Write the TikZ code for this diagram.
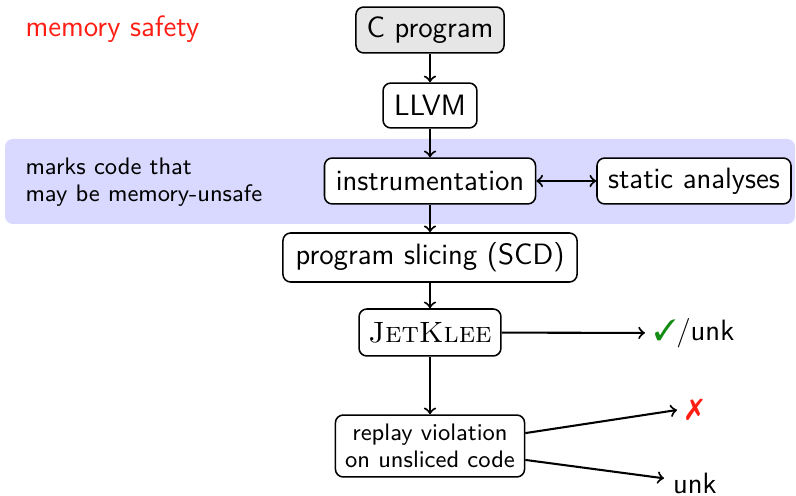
\documentclass[tikz,border=0pt]{standalone}
\usepackage{pifont}
\usetikzlibrary{arrows}
\definecolor{bandblue}{RGB}{217,217,255}
\definecolor{boxgray}{RGB}{230,230,230}
\definecolor{okgreen}{RGB}{20,140,20}
\definecolor{badred}{RGB}{255,30,20}
\tikzset{
  mainfont/.style={font=\sffamily\fontsize{11.4}{13.5}\selectfont},
  smallfont/.style={font=\sffamily\fontsize{9.25}{10.5}\selectfont},
  stage/.style={draw=black, line width=0.6pt, rounded corners=3pt, fill=white,
    inner sep=0pt, mainfont},
  flow/.style={->, line width=0.8pt},
  label/.style={mainfont, inner sep=3.33pt}
}
\begin{document}
\begin{tikzpicture}[x=0.3876pt, y=-0.3876pt]
\useasboundingbox (0,0) rectangle (796,496);
% band
\fill[bandblue, rounded corners=3pt] (5,139) rectangle (795,224);
\node[smallfont, align=left, anchor=west, inner sep=0pt] (note) at (25,182.5)
  {marks code that\\may be memory-unsafe};
\node[mainfont, text=badred, anchor=base west, inner sep=0pt] (title) at (25,37) {memory safety};
% stages
\node[stage, fill=boxgray, minimum width=57.4pt, minimum height=17.8pt] (c) at (430,30) {C program};
\node[stage, minimum width=36.4pt, minimum height=17.4pt] (llvm) at (430,105.5) {LLVM};
\node[stage, minimum width=81.8pt, minimum height=17.8pt] (instr) at (430,181) {instrumentation};
\node[stage, minimum width=75.2pt, minimum height=17.8pt] (static) at (694,181) {static analyses};
\node[stage, minimum width=114pt, minimum height=19pt] (slice) at (430,257.5) {program slicing (SCD)};
\node[stage, minimum width=55pt, minimum height=18.2pt, font=\rmfamily\fontsize{11.4}{13.5}\selectfont] (jk) at (430,332.5) {\textsc{JetKlee}};
\node[stage, smallfont, align=center, minimum width=73.3pt, minimum height=24pt] (replay) at (430,446)
  {replay violation\\on unsliced code};
% results
\node[label, anchor=west] (ok) at (645,333) {\textcolor{okgreen}{\ding{51}}/unk};
\node[label, anchor=west, text=badred] (bad) at (677,410) {\ding{55}};
\node[label, anchor=west] (unk) at (664,483.5) {unk};
% connectors
\draw[flow] (c) -- (llvm);
\draw[flow] (llvm) -- (instr);
\draw[<->, line width=0.8pt] (instr) -- (static);
\draw[flow] (instr) -- (slice);
\draw[flow] (slice) -- (jk);
\draw[flow] (jk) -- (ok);
\draw[flow] (jk) -- (replay);
\draw[flow] ([yshift=5pt]replay.east) -- (bad.west);
\draw[flow] ([yshift=-5.4pt]replay.east) -- ([yshift=2pt]unk.west);
\end{tikzpicture}
\end{document}
